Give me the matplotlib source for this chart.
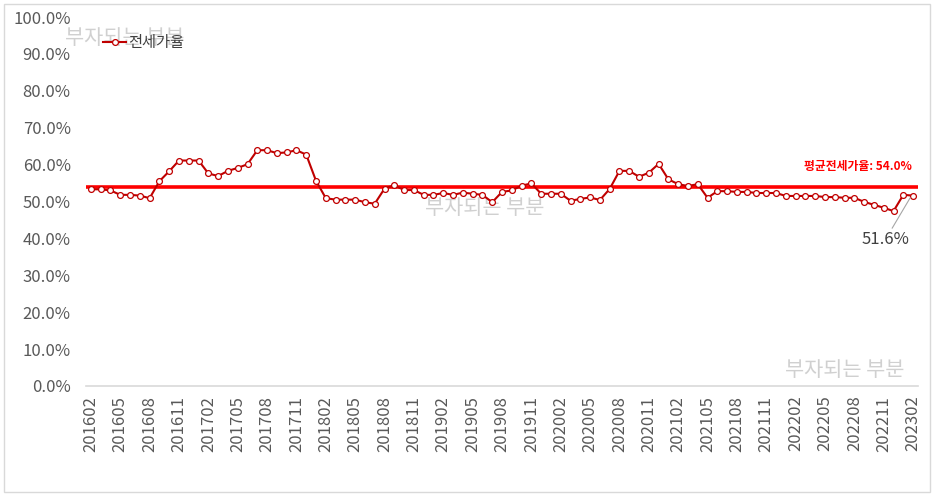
import matplotlib
matplotlib.use("Agg")
import matplotlib.pyplot as plt
import numpy as np
import pandas as pd

plt.rcParams['font.family'] = ['Noto Sans CJK KR', 'DejaVu Sans']

# monthly 전세가율 (%), 201602 ~ 202302
months = [p.strftime("%Y%m") for p in pd.period_range("2016-02", "2023-02", freq="M")]
ratio = [53.3, 53.3, 53.0, 51.8, 51.8, 51.6, 50.9, 55.5, 58.2, 61.1,
         61.1, 61.1, 57.6, 56.9, 58.3, 59.1, 60.1, 63.9, 63.9, 63.1,
         63.3, 63.9, 62.7, 55.6, 50.9, 50.5, 50.5, 50.5, 49.8, 49.4,
         53.5, 54.4, 53.1, 53.1, 51.8, 51.8, 52.3, 51.8, 52.4, 52.1,
         51.8, 49.8, 52.6, 53.0, 54.3, 54.9, 52.1, 52.1, 52.1, 50.2,
         50.7, 51.1, 50.4, 53.4, 58.3, 58.3, 56.7, 57.8, 60.2, 56.0,
         54.7, 54.2, 54.7, 51.0, 52.8, 52.8, 52.6, 52.6, 52.3, 52.3,
         52.3, 51.5, 51.5, 51.5, 51.5, 51.2, 51.2, 51.0, 51.0, 49.9,
         49.1, 48.3, 47.4, 51.8, 51.6]
avg_ratio = 54.0
watermark = "부자되는 부분"

fig = plt.figure(figsize=(9.47, 4.96), dpi=100)
ax = fig.add_axes([86/947, 1 - 386/496, 832/947, 369/496])

x = np.arange(len(months))
ax.plot(x, ratio, color="#C00000", lw=1.5, marker="o", ms=4.2,
        mfc="white", mec="#C00000", mew=0.9, label="전세가율", zorder=3)
ax.axhline(avg_ratio, color="#FF0000", lw=2.6, zorder=2)
ax.text(83.9, avg_ratio + 3.6, f"평균전세가율: {avg_ratio:.1f}%", color="#FF0000",
        fontsize=8.5, fontweight="bold", ha="right", va="bottom")

# label on the last point
ax.annotate(f"{ratio[-1]:.1f}%", xy=(x[-1] - 0.3, ratio[-1] - 0.6),
            xytext=(81.2, 42.0), fontsize=12, color="#404040",
            ha="center", va="top",
            arrowprops=dict(arrowstyle="-", color="#A6A6A6", lw=0.8,
                            shrinkA=0, shrinkB=0, relpos=(0.6, 1.0)))

ax.set_xlim(-0.5, len(months) - 0.5)
ax.set_ylim(0, 100)
ax.set_yticks(np.arange(0, 101, 10))
ax.set_yticklabels([f"{v:.1f}%" for v in np.arange(0, 101, 10)])
ax.set_xticks(x[::3])
ax.set_xticklabels(months[::3], rotation=90)
ax.tick_params(length=0, labelsize=12, colors="#595959")
ax.tick_params(axis="y", pad=11)
ax.tick_params(axis="x", pad=7)
for s in ["top", "right", "left"]:
    ax.spines[s].set_visible(False)
ax.spines["bottom"].set_color("#D9D9D9")
ax.spines["bottom"].set_linewidth(1.2)

leg = ax.legend(loc="upper left", bbox_to_anchor=(97/947, 1 - 28/496),
                bbox_transform=fig.transFigure, frameon=False, fontsize=11,
                handlelength=1.5, handletextpad=0.15, borderaxespad=0)
for t in leg.get_texts():
    t.set_color("#404040")

# watermarks (behind the data)
wm = dict(fontsize=15, color="#D0D0D0", ha="center", va="center", zorder=1,
          transform=fig.transFigure)
ax.text(125/947, 1 - 38/496, watermark, **wm)
ax.text(485/947, 1 - 208/496, watermark, **wm)
ax.text(845/947, 1 - 370/496, watermark, **wm)

# outer frame
fig.patches.append(plt.Rectangle((4/947, 4/496), 926/947, 488/496,
                                 transform=fig.transFigure, fill=False,
                                 ec="#D9D9D9", lw=1))

fig.savefig("out.png", dpi=100)
